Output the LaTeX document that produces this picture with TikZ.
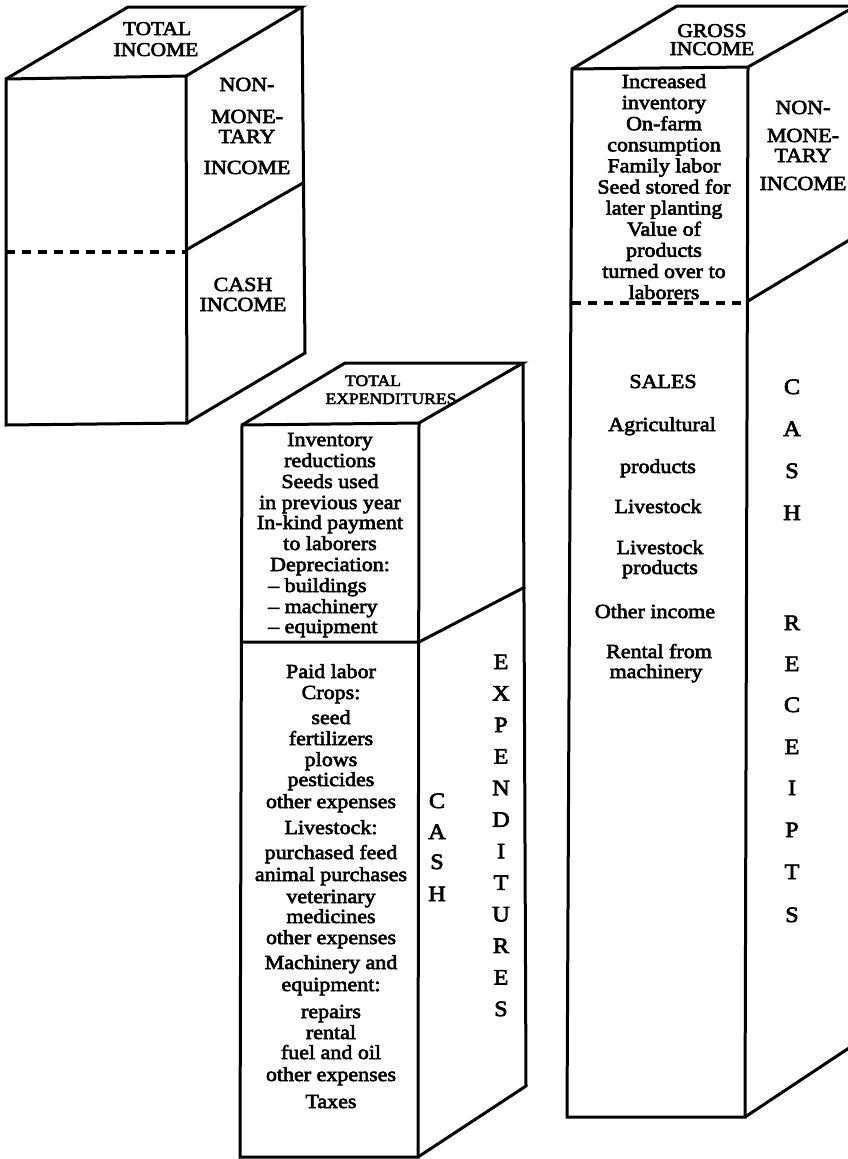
\documentclass[tikz,border=0pt]{standalone}
\usepackage{fontspec}
\setmainfont{Liberation Serif}[FakeStretch=1.1, FakeBold=3]
\begin{document}
\begin{tikzpicture}[x=1pt,y=-1pt,
  edge/.style={line width=3pt, line join=miter},
  cut/.style={line width=3.2pt, dash pattern=on 9pt off 7pt},
  txt/.style={inner sep=0pt, text height=15pt, text depth=3pt, font=\fontsize{20}{21}\selectfont},
  hdr/.style={txt, font=\fontsize{19.5}{20}\selectfont},
  hdrs/.style={txt, font=\fontsize{16}{17}\selectfont},
  big/.style={txt, font=\fontsize{22}{23}\selectfont},
  lst/.style={txt, anchor=west},
]
\clip (0,0) rectangle (848,1159);

% ---------- total income block ----------
\draw[edge] (6,79) -- (186,76) -- (187,423) -- (6,425) -- cycle;
\draw[edge] (6,79) -- (128,7) -- (302,7) -- (186,76);
\draw[edge] (302,7) -- (305,353) -- (187,423);
\draw[edge] (186,250) -- (303,183);
\draw[cut] (6,252) -- (186,252);

\node[hdr] (ti1) at (157,29) {TOTAL};
\node[hdr] (ti2) at (156,50) {INCOME};
\foreach \t/\y [count=\i] in {NON-/85, MONE-/117, TARY/137, INCOME/168}
  \node[txt] (tin\i) at (247,\y) {\t};
\node[txt] (tic1) at (243,285) {CASH};
\node[txt] (tic2) at (243,305) {INCOME};

% ---------- total expenditures block ----------
\draw[edge] (242,425) -- (419,423) -- (418,1157) -- (240,1157) -- cycle;
\draw[edge] (242,425) -- (345,363) -- (523,363) -- (419,423);
\draw[edge] (523,363) -- (526,1086) -- (418,1157);
\draw[edge] (242,642) -- (419,642) -- (525,587);

\node[hdrs] (te1) at (373,380) {TOTAL};
\node[hdrs] (te2) at (391,398) {EXPENDITURES};

\foreach \t/\y [count=\i] in {Inventory/440, reductions/461, Seeds used/482,
    in previous year/503, In-kind payment/523, to laborers/544, Depreciation:/565}
  \node[txt] (eu\i) at (330,\y) {\t};
\foreach \t/\y [count=\i] in {-- buildings/586, -- machinery/607, -- equipment/627}
  \node[lst] (ed\i) at (268,\y) {\t};

\foreach \t/\y [count=\i] in {Paid labor/672, Crops:/693, seed/718, fertilizers/739,
    plows/760, pesticides/780, other expenses/802, Livestock:/828,
    purchased feed/853, animal purchases/875, veterinary/897, medicines/917,
    other expenses/938, Machinery and/963, equipment:/985, repairs/1012,
    rental/1033, fuel and oil/1053, other expenses/1075, Taxes/1102}
  \node[txt] (el\i) at (331,\y) {\t};

\foreach \t/\y [count=\i] in {C/802, A/833, S/863, H/895}
  \node[big] (ec\i) at (437,\y) {\t};
\foreach \t [count=\i] in {E,X,P,E,N,D,I,T,U,R,E,S}
  \node[big] (ex\i) at (501,{663+31.55*(\i-1)}) {\t};

% ---------- gross income block ----------
\draw[edge] (572,69) -- (748,67) -- (745,1117) -- (567,1117) -- cycle;
\draw[edge] (572,69) -- (677,6) -- (856,6) -- (748,67);
\draw[edge] (748,301) -- (856,236);
\draw[edge] (745,1117) -- (858,1042);
\draw[cut] (572,303) -- (748,303);

\node[hdr] (gi1) at (712,31) {GROSS};
\node[hdr] (gi2) at (712,49) {INCOME};

\foreach \t [count=\i] in {Increased, inventory, On-farm, consumption, Family labor,
    Seed stored for, later planting, Value of, products, turned over to, laborers}
  \node[txt] (gu\i) at (664,{82+21.1*(\i-1)}) {\t};

\foreach \t/\y [count=\i] in {NON-/108, MONE-/136, TARY/156, INCOME/184}
  \node[txt] (gn\i) at (803,\y) {\t};

\node[txt] (gs1) at (663,382) {SALES};
\node[txt] (gs2) at (662,425) {Agricultural};
\node[txt] (gs3) at (658,467) {products};
\node[txt] (gs4) at (658,507) {Livestock};
\node[txt] (gs5) at (660,548) {Livestock};
\node[txt] (gs6) at (660,568) {products};
\node[txt] (gs7) at (655,612) {Other income};
\node[txt] (gs8) at (659,652) {Rental from};
\node[txt] (gs9) at (656,672) {machinery};

\foreach \t/\y [count=\i] in {C/388, A/430, S/472, H/514, R/624, E/665, C/706,
    E/748, I/789, P/831, T/873, S/916}
  \node[big] (gr\i) at (792,\y) {\t};
\end{tikzpicture}
\end{document}
